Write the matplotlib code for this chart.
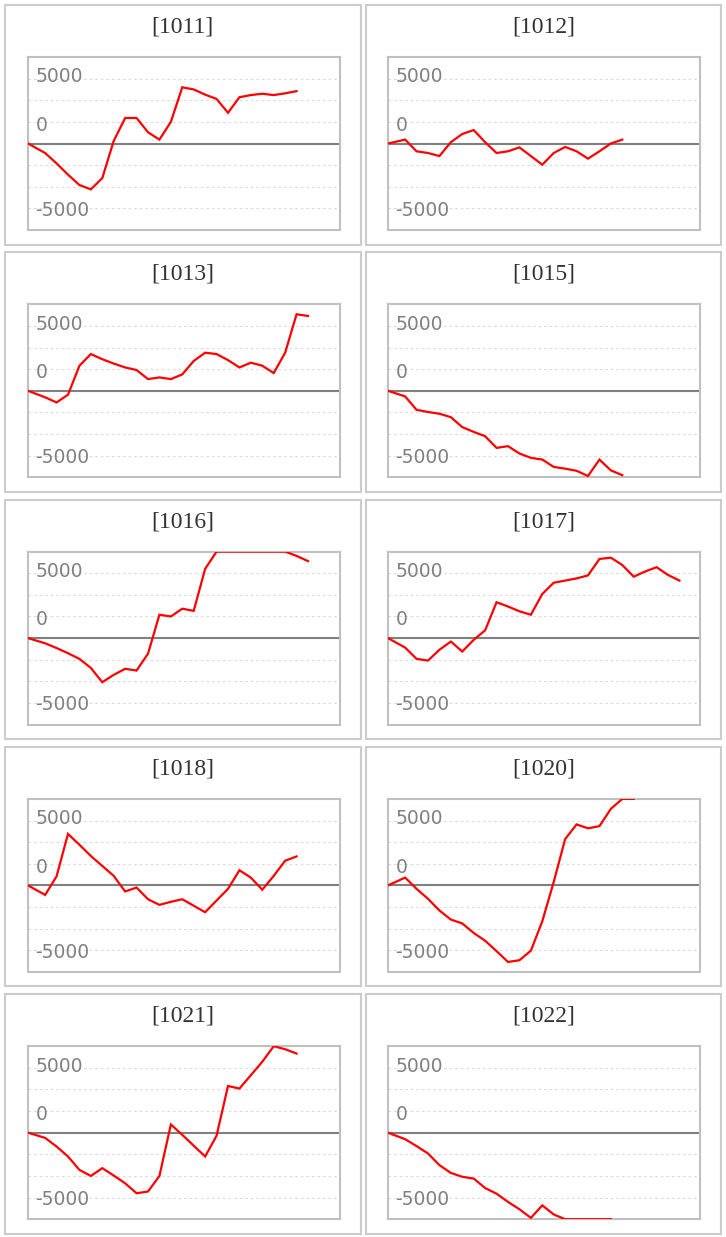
import numpy as np
import matplotlib
matplotlib.use("Agg")
import matplotlib.pyplot as plt
from matplotlib.patches import Rectangle
from matplotlib import transforms

# ---------------- data ----------------
codes = ["[1011]", "[1012]", "[1013]", "[1015]", "[1016]",
         "[1017]", "[1018]", "[1020]", "[1021]", "[1022]"]

s1011 = [0, -1100, -2300, -3600, -4800, -5300, -4000, 300, 2950, 2950, 1300, 450,
         2500, 6500, 6250, 5650, 5150, 3550, 5350, 5600, 5750, 5600, 5800, 6050]
s1012 = [0, 450, -900, -1100, -1450, 150, 1100, 1550, 150, -1100, -900, -450,
         -1450, -2450, -1100, -400, -900, -1750, -900, 0, 450]
s1013 = [0, -750, -1350, -450, 2900, 4250, 3650, 3150, 2700, 2400, 1350, 1550,
         1350, 1900, 3450, 4400, 4250, 3550, 2700, 3250, 2900, 2050, 4400, 8850, 8650]
s1015 = [0, -650, -2200, -2450, -2650, -3050, -4200, -4750, -5250, -6600, -6400,
         -7250, -7750, -7950, -8800, -9000, -9250, -9850, -7950, -9200, -9750]
s1016 = [0, -600, -1150, -1750, -2400, -3450, -5100, -4250, -3550, -3750, -1800,
         2700, 2500, 3400, 3150, 8000, 10300, 10800, 11200, 11500, 11300, 10900,
         10100, 9500, 8900]
s1017 = [0, -1100, -2400, -2600, -1350, -400, -1550, -200, 900, 4150, 3650, 3100,
         2700, 5100, 6400, 6650, 6900, 7250, 9150, 9300, 8450, 7100, 7700, 8200,
         7300, 6650]
s1018 = [0, -1100, 1050, 5950, 4700, 3400, 2250, 1100, -700, -250, -1600, -2250,
         -1900, -1600, -2350, -3100, -1750, -400, 1750, 900, -500, 1100, 2850, 3350]
s1020 = [0, 900, -400, -1550, -2900, -3950, -4400, -5500, -6400, -7600, -8850,
         -8650, -7550, -4150, 400, 5350, 7050, 6600, 6850, 8850, 10100, 10100]
s1021 = [0, -600, -1600, -2750, -4300, -5000, -4100, -4950, -5850, -7000, -6800,
         -5000, 950, -250, -1500, -2750, -350, 5400, 5100, 6650, 8200, 10050, 9650, 9150]
s1022 = [0, -750, -1550, -2400, -3750, -4650, -5100, -5300, -6400, -7050, -8000,
         -8850, -9850, -8400, -9450, -10100, -10400, -10600, -10800, -10500]

series = [s1011, s1012, s1013, s1015, s1016, s1017, s1018, s1020, s1021, s1022]

ytick_labels = ["5000", "0", "-5000"]

# ---------------- layout ----------------
W, H = 726, 1237
fig = plt.figure(figsize=(W / 100, H / 100), dpi=100)
fig.patch.set_facecolor("white")

YMIN, YMAX = -10000, 10000
XMAX = 27.3
label_y = [7700, 2100, -7700]
grid_y = [-7500, -5000, -2500, 2500, 5000, 7500]

box_left = [5, 365.5]
box_w = 355.5
box_h = 239.5
row_pitch = 247.3
box_top0 = 5

frame_left = [28, 388]
frame_w = 312
frame_h = 173
frame_top0 = 57

for i, (code, vals) in enumerate(zip(codes, series)):
    r, c = divmod(i, 2)
    bt = box_top0 + r * row_pitch
    fig.add_artist(Rectangle((box_left[c] / W, 1 - (bt + box_h) / H),
                             box_w / W, box_h / H, transform=fig.transFigure,
                             fill=False, ec="#cccccc", lw=1.5))
    fig.text((box_left[c] + box_w / 2) / W, 1 - (bt + 22) / H, code,
             ha="center", va="center", family="Liberation Serif",
             fontsize=17, color="#333333")

    ft = frame_top0 + r * row_pitch
    ax = fig.add_axes([frame_left[c] / W, 1 - (ft + frame_h) / H,
                       frame_w / W, frame_h / H])
    ax.set_xlim(0, XMAX)
    ax.set_ylim(YMIN, YMAX)
    ax.set_xticks([])
    ax.set_yticks([])
    for sp in ax.spines.values():
        sp.set_color("#c0c0c0")
        sp.set_linewidth(1.5)

    for g in grid_y:
        ax.axhline(g, color="#dcdcdc", lw=0.8, ls=(0, (2.5, 2.5)), zorder=1)
    ax.axhline(0, color="#808080", lw=1.5, zorder=1.5)

    trans = transforms.blended_transform_factory(ax.transAxes, ax.transData)
    for lab, ly in zip(ytick_labels, label_y):
        ax.text(7.5 / frame_w, ly, lab, transform=trans, ha="left", va="center",
                fontsize=13.5, color="#808080", family="DejaVu Sans", zorder=2)

    v = np.array(vals, dtype=float)
    x = np.concatenate([[0.0], np.arange(1, len(v)) + 0.5])
    ax.plot(x, np.clip(v, YMIN, YMAX), color="#ff0000", lw=1.6, zorder=3,
            solid_joinstyle="miter")

fig.savefig("out.png", dpi=100, facecolor="white")
